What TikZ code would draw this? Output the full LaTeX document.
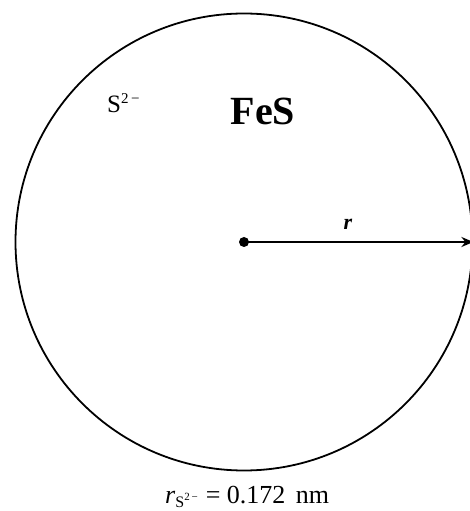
\documentclass[tikz,border=0pt]{standalone}
\usepackage{fontspec}
\setmainfont{Liberation Serif}
\usetikzlibrary{arrows.meta,positioning}

\begin{document}
\begin{tikzpicture}[x=1pt, y=1pt]
            \useasboundingbox (0,0) rectangle (470,511);
            % Ione S2- (cerchio)
            \node[draw, circle, minimum size=457pt, inner sep=0pt, line width=1.8pt] (ion) at (244,269) {};
            
            % Etichette dentro il cerchio
            \node[anchor=base west, inner sep=0pt, font=\fontsize{25}{25}\selectfont] (ionlbl) at (107,398) {S\raisebox{9pt}{\fontsize{15}{15}\selectfont 2\,−}};
            \node[anchor=base, inner sep=0pt, font=\fontsize{40}{40}\selectfont\bfseries] (formula) at (263,386) {FeS};
            
            % Raggio r
            \fill (ion.center) circle (5pt);
            \draw[-{Stealth[length=12pt, width=10pt]}, line width=2.2pt] (ion.center) -- (ion.east);
            \node[anchor=base, inner sep=0pt, font=\fontsize{22}{22}\selectfont\itshape\bfseries] (rlbl) at (348,281) {r};
            
            % Valore del raggio
            \node[anchor=base west, inner sep=0pt, font=\fontsize{26}{26}\selectfont] (value) at (165,7) {\textit{r}\raisebox{-4pt}{\fontsize{16}{16}\selectfont S\raisebox{7pt}{\fontsize{11}{11}\selectfont 2\,−}}\hspace{8pt}= 0.172\hspace{4pt} nm};
        \end{tikzpicture}
\end{document}
